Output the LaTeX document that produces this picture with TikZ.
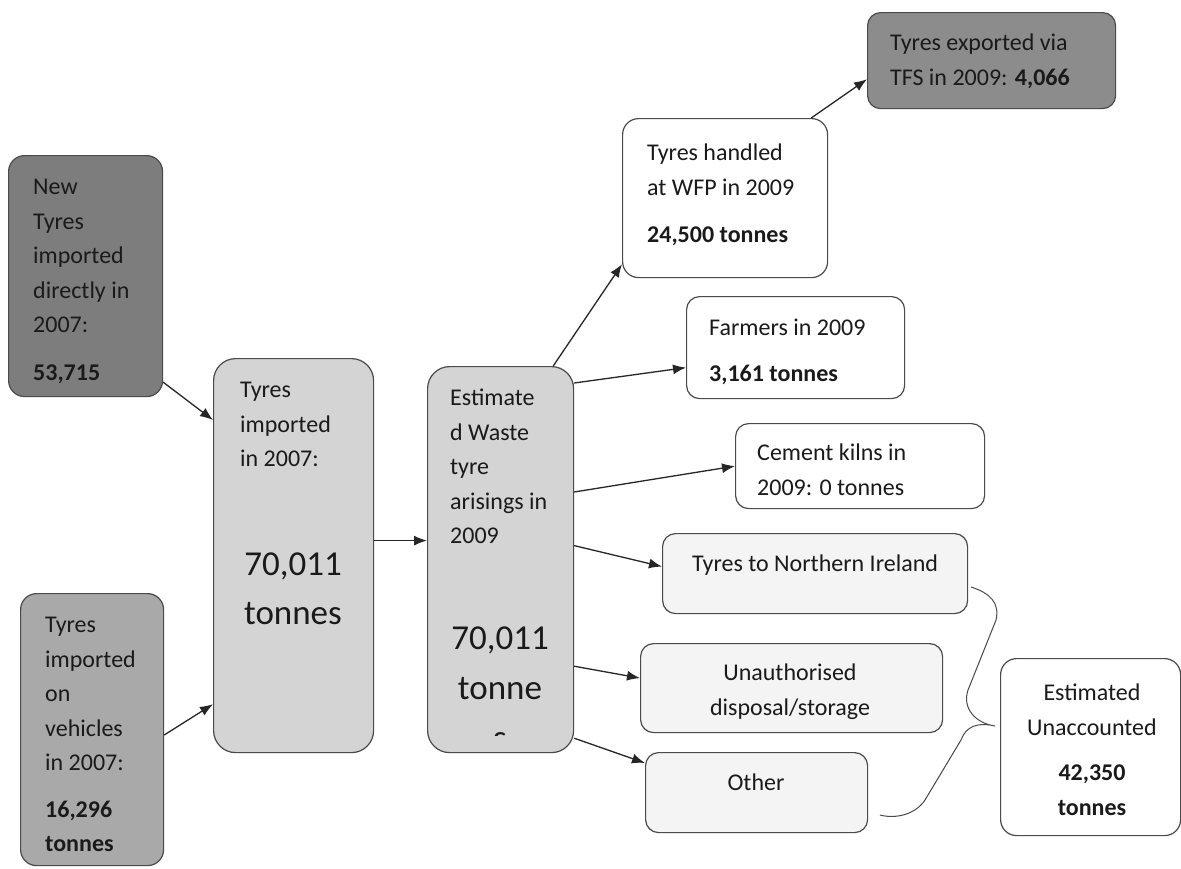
\documentclass[tikz,border=0pt]{standalone}
\usepackage{fontspec}
\setmainfont{Carlito}
\usepackage{xcolor}
\usetikzlibrary{arrows.meta,calc}
\definecolor{edge}{HTML}{4A4A4A}
\definecolor{arrc}{HTML}{262626}
\definecolor{txtc}{HTML}{1A1A1A}
\definecolor{dkbox}{HTML}{7D7D7D}
\definecolor{exbox}{HTML}{8C8C8C}
\definecolor{mdbox}{HTML}{A9A9A9}
\definecolor{ltbox}{HTML}{D4D4D4}
\definecolor{pale}{HTML}{F4F4F4}

\begin{document}
\begin{tikzpicture}[x=1pt, y=-1pt,
  font=\fontsize{24}{34.5}\selectfont, text=txtc,
  box/.style ={draw=edge, line width=1.2pt, rounded corners=16pt, inner sep=0pt,
               anchor=north west},
  sbox/.style={box, rounded corners=13pt},
  txt/.style ={anchor=north west, align=left, inner sep=0pt},
  ctxt/.style={anchor=north, align=center, inner sep=0pt},
  big/.style ={ctxt, font=\fontsize{35}{49}\selectfont},
  fl/.style  ={-{Latex[length=13pt,width=10pt]}, line width=1.3pt, draw=arrc}]

\useasboundingbox (0,0) rectangle (1181,868);

% left column
\node[box, fill=dkbox, minimum width=154pt, minimum height=241pt] (newt) at (8,155) {};
\node[txt] (newt-t) at (33,179) {New\\Tyres\\imported\\directly in\\2007:\\[13pt]\textbf{53,715}};

\node[box, fill=mdbox, minimum width=143pt, minimum height=272pt] (veh) at (20,593) {};
\node[txt] (veh-t) at (45,617) {Tyres\\imported\\on\\vehicles\\in 2007:\\[12pt]\textbf{16,296}\\\textbf{tonnes}};

\node[box, rounded corners=22pt, fill=ltbox, minimum width=160pt, minimum height=394pt] (imp) at (213,358) {};
\node[txt] (imp-t) at (240,382) {Tyres\\imported\\in 2007:};
\node[big] (imp-n) at (293,553) {70,011\\tonnes};

\node[box, rounded corners=22pt, fill=ltbox, minimum width=146pt, minimum height=386pt] (waste) at (427,366) {};
\node[txt] (waste-t) at (450,389) {Estimate\\d Waste\\tyre\\arisings in\\2009};
\begin{scope}
  \clip (waste.north west) rectangle ([yshift=18pt]waste.south east);
  \node[big, font=\fontsize{35}{50}\selectfont] (waste-n) at (500,627) {70,011\\tonne\\s};
\end{scope}

% destinations
\node[box, fill=white, minimum width=205pt, minimum height=159pt] (wfp) at (622,118) {};
\node[txt] (wfp-t) at (647,144) {Tyres handled\\at WFP in 2009\\[13pt]\textbf{24,500 tonnes}};

\node[sbox, fill=exbox, minimum width=248pt, minimum height=96pt] (tfs) at (867,12) {};
\node[txt] (tfs-t) at (890,34) {Tyres exported via\\TFS in 2009: \textbf{4,066}};

\node[sbox, fill=white, minimum width=218pt, minimum height=102pt] (farm) at (686,296) {};
\node[txt] (farm-t) at (709,319) {Farmers in 2009\\[11pt]\textbf{3,161 tonnes}};

\node[sbox, fill=white, minimum width=249pt, minimum height=85pt] (cem) at (735,423) {};
\node[txt] (cem-t) at (757,444) {Cement kilns in\\2009: 0 tonnes};

\node[sbox, fill=pale, minimum width=305pt, minimum height=80pt] (ni) at (662,533) {};
\node[ctxt] (ni-t) at (815,555) {Tyres to Northern Ireland};

\node[sbox, fill=pale, minimum width=302pt, minimum height=89pt] (unauth) at (640,643) {};
\node[ctxt] (unauth-t) at (790,664) {Unauthorised\\disposal/storage};

\node[sbox, fill=pale, minimum width=222pt, minimum height=80pt] (oth) at (645,752) {};
\node[ctxt] (oth-t) at (756,774) {Other};

\node[box, fill=white, minimum width=180pt, minimum height=177pt] (unacc) at (1000,658) {};
\node[ctxt] (unacc-t) at (1092,684) {Estimated\\Unaccounted\\[11pt]\textbf{42,350}\\\textbf{tonnes}};

% flows
\draw[fl] ([yshift=15pt]newt.south east) -- ([yshift=-62pt]imp.north west);
\draw[fl] ([yshift=-142pt]veh.north east) -- ([yshift=49pt]imp.south west);
\draw[fl] ([yshift=15pt]imp.east) -- ([yshift=15pt]imp.east -| waste.west);
\draw[fl] ([xshift=-21pt]waste.north east) -- ([yshift=14pt]wfp.south west);
\draw[fl] ([xshift=-17pt]wfp.north east) -- ([yshift=30pt]tfs.south west);
\draw[fl] ([yshift=-17pt]waste.north east) -- ([yshift=-20pt]farm.west);
\draw[fl] ([yshift=-126pt]waste.north east) -- (cem.west);
\draw[fl] ([yshift=14pt]waste.east) -- ([yshift=7pt]ni.west);
\draw[fl] ([yshift=87pt]waste.south east) -- ([yshift=10pt]unauth.west);
\draw[fl] ([yshift=15pt]waste.south east) -- ([yshift=-11pt]oth.north west);

% brace to the unaccounted total
\draw[edge, line width=1pt]
  (971,587) .. controls (990,593) and (1000,603) .. (996,620) -- (968,690)
  .. controls (962,708) and (975,723) .. (995,726)
  .. controls (978,722) and (966,726) .. (961,740) -- (925,800)
  .. controls (915,815) and (895,819) .. (880,815);
\end{tikzpicture}
\end{document}
